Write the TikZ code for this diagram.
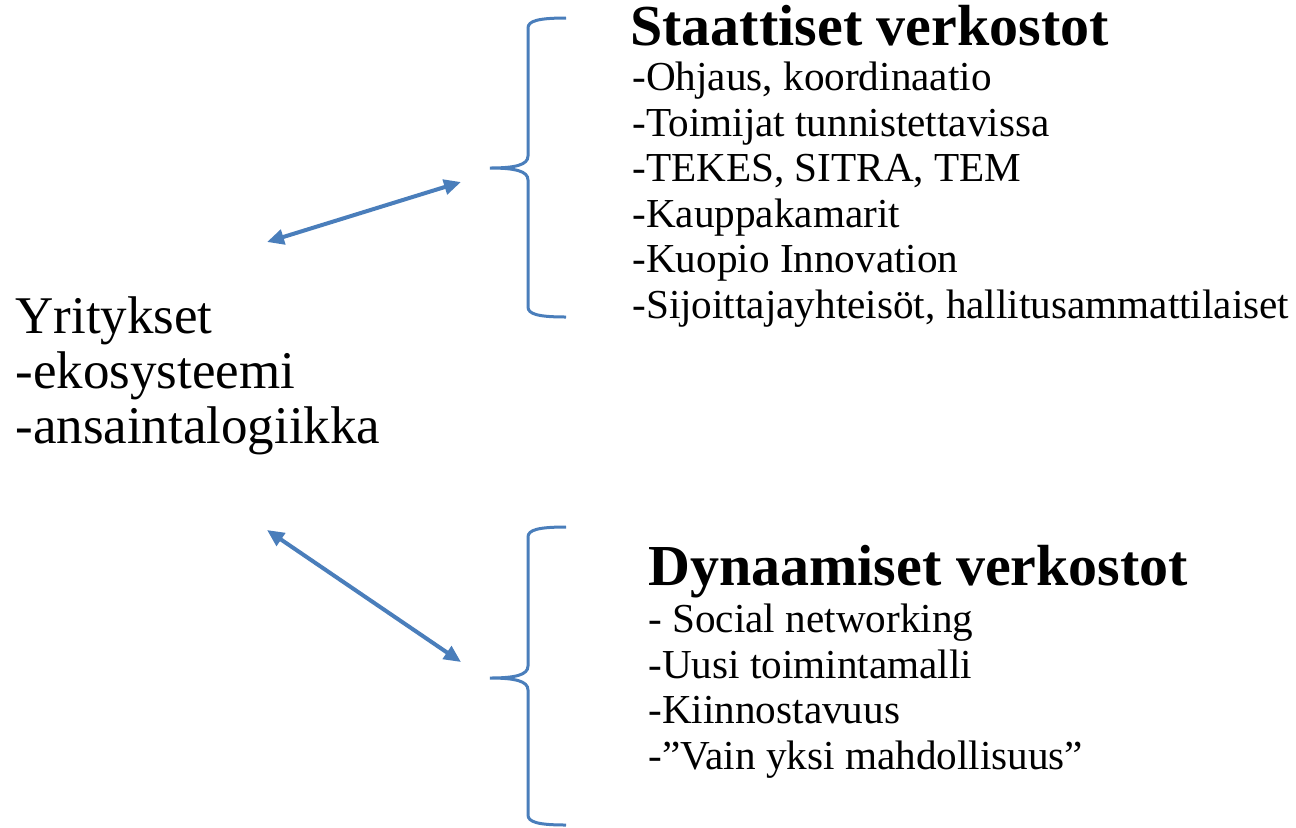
\documentclass[tikz,border=0pt]{standalone}
\usepackage{fontspec}
\setmainfont{Liberation Serif}
\usetikzlibrary{arrows.meta, positioning}
\definecolor{linkblue}{HTML}{4A7EBB}

\begin{document}
\begin{tikzpicture}[
    x=0.5pt, y=-0.5pt,
    >={Triangle[length=8.5pt, width=7.5pt]},
    link/.style={<->, draw=linkblue, fill=linkblue, line width=2pt},
    bracket/.style={draw=linkblue, line width=1.5pt},
    heading/.style={font=\fontsize{29}{32}\selectfont\bfseries, inner sep=0pt, anchor=base west},
    items/.style={font=\fontsize{20.6}{22.75}\selectfont, align=left, inner sep=0pt, anchor=base west}
  ]
  \useasboundingbox (0,0) rectangle (1296,827);

  % Companies on the left (anchor sits on the last line)
  \node[font=\fontsize{26.5}{27.5}\selectfont, align=left, inner sep=0pt, anchor=base west] (firms) at (15,443) {Yritykset\\-ekosysteemi\\-ansaintalogiikka};

  % Static networks
  \node[heading] (static) at (630,45) {Staattiset verkostot};
  \node[items] (staticlist) at (632,318) {-Ohjaus, koordinaatio\\-Toimijat tunnistettavissa\\-TEKES, SITRA, TEM\\-Kauppakamarit\\-Kuopio Innovation\\-Sijoittajayhteisöt, hallitusammattilaiset};

  % Dynamic networks
  \node[heading] (dynamic) at (648,585) {Dynaamiset verkostot};
  \node[items] (dynamiclist) at (648,769) {- Social networking\\-Uusi toimintamalli\\-Kiinnostavuus\\-”Vain yksi mahdollisuus”};

  % Braces
  \coordinate (stip) at (490,168);
  \coordinate (dtip) at (490,678);
  \draw[bracket] (566,18) .. controls (538,18) and (528,21) .. (528,28) -- (528,156)
    .. controls (528,165) and (515,168) .. (stip)
    .. controls (515,168) and (528,171) .. (528,180) -- (528,307)
    .. controls (528,314) and (538,317) .. (566,317);
  \draw[bracket] (566,527) .. controls (538,527) and (528,530) .. (528,537) -- (528,666)
    .. controls (528,675) and (515,678) .. (dtip)
    .. controls (515,678) and (528,681) .. (528,690) -- (528,815)
    .. controls (528,822) and (538,825) .. (566,825);

  % Links
  \coordinate (a1) at (267,242);
  \coordinate (b1) at (461,182);
  \coordinate (a2) at (267,530);
  \coordinate (b2) at (461,662);
  \draw[link] (a1) -- (b1);
  \draw[link] (a2) -- (b2);
\end{tikzpicture}
\end{document}
